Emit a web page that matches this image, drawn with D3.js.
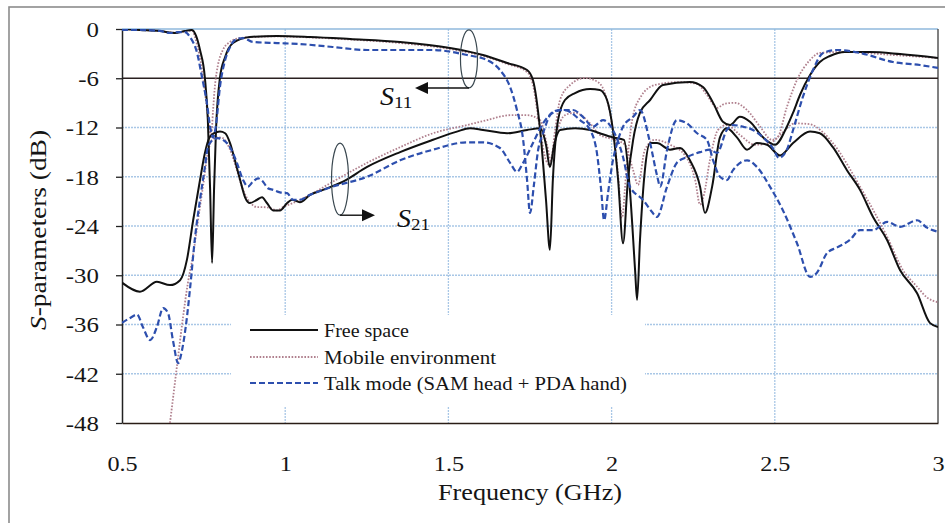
<!DOCTYPE html>
<html><head><meta charset="utf-8">
<script src="https://cdn.jsdelivr.net/npm/d3@7"></script>
<style>
body{margin:0;background:#fff}
svg text{font-family:"Liberation Serif","Times New Roman",serif;}
</style>
</head><body>
<svg id="chart" width="945" height="523"></svg>
<script>
// ---------- data ----------
const xTicks = [0.5, 1, 1.5, 2, 2.5, 3];
const xTickLabels = ["0.5", "1", "1.5", "2", "2.5", "3"];
const yTicks = [0, -6, -12, -18, -24, -30, -36, -42, -48];
const yTickLabels = ["0", "-6", "-12", "-18", "-24", "-30", "-36", "-42", "-48"];
const xGrid = [1, 1.5, 2, 2.5];
const yGrid = [-12, -18, -24, -30, -36, -42];
const refLevel = -6;
const seriesNames = ["Free space", "Mobile environment", "Talk mode (SAM head + PDA hand)"];

// [frequency GHz, dB]
const freeS11 = [[0.5,0],[0.555,-0.12],[0.616,-0.24],[0.662,-0.49],[0.693,-0.24],[0.714,-0.12],[0.727,-0.85],[0.739,-2.56],[0.754,-5.97],[0.763,-11.1],[0.770,-19.6],[0.776,-28.5],[0.782,-19.6],[0.788,-12.3],[0.800,-5.97],[0.816,-3.41],[0.840,-1.71],[0.892,-0.97],[0.975,-0.85],[1.076,-0.97],[1.199,-1.22],[1.352,-1.58],[1.505,-2.31],[1.606,-3.17],[1.680,-4.14],[1.741,-5.0],[1.759,-6.21],[1.781,-12.3],[1.799,-20.8],[1.811,-26.9],[1.820,-18.4],[1.836,-11.1],[1.857,-8.65],[1.888,-7.8],[1.934,-7.31],[1.964,-7.43],[1.986,-8.65],[2.004,-12.3],[2.020,-18.4],[2.035,-26.1],[2.050,-18.4],[2.066,-13.5],[2.087,-10.2],[2.118,-8.65],[2.157,-6.82],[2.240,-6.46],[2.280,-7.07],[2.311,-9.0],[2.341,-11.3],[2.363,-11.7],[2.393,-10.7],[2.424,-11.3],[2.464,-13.2],[2.501,-14.1],[2.537,-11.9],[2.556,-10.2],[2.577,-8.04],[2.608,-5.6],[2.638,-4.02],[2.669,-3.29],[2.715,-2.8],[2.792,-2.8],[2.884,-3.05],[3.0,-3.53]];
const freeS21 = [[0.5,-30.9],[0.555,-32.0],[0.607,-30.8],[0.647,-31.2],[0.678,-30.6],[0.699,-28.1],[0.718,-23.3],[0.739,-18.4],[0.754,-15.1],[0.767,-13.3],[0.782,-12.7],[0.800,-12.5],[0.816,-12.7],[0.831,-13.9],[0.846,-16.0],[0.862,-18.4],[0.877,-20.5],[0.892,-21.2],[0.914,-20.8],[0.929,-20.5],[0.944,-21.2],[0.963,-22.1],[0.984,-22.1],[1.006,-21.2],[1.021,-20.8],[1.045,-21.1],[1.076,-20.2],[1.116,-19.6],[1.177,-18.6],[1.251,-16.8],[1.352,-15.0],[1.453,-13.5],[1.526,-12.5],[1.566,-12.1],[1.606,-12.3],[1.680,-12.7],[1.741,-12.3],[1.781,-12.1],[1.799,-14.1],[1.811,-16.8],[1.824,-14.1],[1.842,-12.3],[1.888,-12.1],[1.934,-12.3],[1.964,-12.7],[2.004,-13.2],[2.038,-13.5],[2.056,-19.6],[2.072,-29.4],[2.078,-33.0],[2.087,-25.7],[2.102,-17.2],[2.118,-13.9],[2.139,-13.9],[2.179,-14.7],[2.210,-14.5],[2.240,-16.0],[2.271,-19.2],[2.286,-22.4],[2.308,-19.2],[2.332,-13.2],[2.353,-12.1],[2.384,-13.2],[2.415,-14.7],[2.445,-13.9],[2.476,-14.1],[2.516,-15.4],[2.556,-13.9],[2.608,-12.5],[2.638,-12.7],[2.678,-14.4],[2.721,-17.2],[2.761,-19.6],[2.801,-22.9],[2.844,-25.7],[2.884,-29.4],[2.936,-32.2],[2.975,-35.8],[3.0,-36.3]];
const mobileS11 = [[0.5,0],[0.555,-0.12],[0.616,-0.24],[0.662,-0.45],[0.693,-0.3],[0.714,-0.2],[0.730,-1.95],[0.745,-5.0],[0.757,-8.65],[0.767,-11.7],[0.773,-13.2],[0.779,-9.87],[0.785,-6.82],[0.794,-4.39],[0.809,-2.56],[0.831,-1.58],[0.862,-1.1],[0.975,-0.9],[1.076,-1.03],[1.199,-1.28],[1.352,-1.71],[1.505,-2.44],[1.606,-3.29],[1.680,-4.26],[1.741,-5.24],[1.759,-6.8],[1.781,-12.3],[1.799,-16.0],[1.811,-16.6],[1.827,-12.3],[1.842,-8.65],[1.873,-6.82],[1.918,-5.97],[1.958,-6.46],[1.986,-8.65],[2.004,-12.3],[2.020,-17.8],[2.032,-23.0],[2.044,-17.8],[2.063,-11.1],[2.087,-8.4],[2.133,-6.82],[2.210,-6.46],[2.262,-6.7],[2.292,-8.04],[2.323,-9.6],[2.347,-9.1],[2.378,-9.0],[2.415,-9.87],[2.455,-11.9],[2.491,-13.5],[2.507,-13.3],[2.537,-9.5],[2.568,-6.2],[2.608,-3.78],[2.638,-2.92],[2.709,-2.8],[2.862,-3.17],[3.0,-3.53]];
const mobileS21 = [[0.647,-48.0],[0.668,-41.2],[0.687,-35.1],[0.702,-30.9],[0.718,-27.5],[0.733,-23.3],[0.748,-19.2],[0.763,-15.1],[0.776,-13.5],[0.791,-13.2],[0.809,-13.3],[0.831,-14.7],[0.852,-17.2],[0.871,-19.6],[0.892,-21.1],[0.914,-21.7],[0.932,-21.7],[0.953,-21.8],[0.975,-22.1],[0.993,-21.7],[1.024,-21.2],[1.076,-20.2],[1.146,-18.6],[1.251,-16.3],[1.352,-14.4],[1.453,-12.7],[1.557,-11.7],[1.618,-11.1],[1.689,-10.5],[1.741,-10.5],[1.781,-11.1],[1.802,-14.1],[1.814,-16.0],[1.830,-12.9],[1.857,-10.5],[1.888,-10.2],[1.934,-11.5],[1.964,-12.9],[2.010,-13.5],[2.041,-14.1],[2.066,-17.2],[2.081,-19.0],[2.102,-14.7],[2.133,-13.5],[2.179,-14.1],[2.225,-15.4],[2.256,-18.4],[2.271,-21.4],[2.283,-20.2],[2.301,-16.0],[2.326,-12.3],[2.353,-11.7],[2.393,-12.9],[2.439,-14.1],[2.485,-13.9],[2.516,-12.9],[2.562,-11.5],[2.608,-11.6],[2.645,-12.5],[2.678,-13.9],[2.761,-19.2],[2.844,-25.3],[2.893,-29.4],[2.936,-31.4],[2.966,-32.7],[3.0,-33.3]];
const talkS11 = [[0.5,-0.12],[0.555,-0.12],[0.616,-0.24],[0.647,-0.49],[0.672,-0.37],[0.693,-0.37],[0.708,-0.97],[0.730,-2.92],[0.745,-5.85],[0.760,-9.0],[0.770,-11.9],[0.779,-13.2],[0.788,-11.7],[0.800,-7.07],[0.816,-3.78],[0.831,-2.19],[0.846,-1.34],[0.871,-1.1],[0.901,-1.58],[0.975,-1.71],[1.045,-1.83],[1.146,-2.19],[1.251,-2.56],[1.453,-2.56],[1.557,-3.17],[1.618,-3.78],[1.658,-5.0],[1.689,-7.07],[1.710,-9.87],[1.729,-13.5],[1.741,-18.4],[1.750,-22.4],[1.762,-19.0],[1.775,-14.7],[1.790,-12.7],[1.817,-10.2],[1.842,-9.87],[1.882,-9.87],[1.912,-10.7],[1.943,-11.9],[1.974,-11.1],[2.004,-12.3],[2.035,-15.6],[2.056,-19.2],[2.096,-20.8],[2.124,-22.3],[2.139,-22.9],[2.170,-19.2],[2.200,-16.3],[2.231,-15.6],[2.271,-15.0],[2.301,-14.7],[2.323,-15.1],[2.353,-12.3],[2.372,-11.7],[2.402,-11.9],[2.433,-12.3],[2.464,-13.2],[2.494,-14.5],[2.513,-15.7],[2.537,-14.7],[2.556,-12.3],[2.586,-8.28],[2.617,-5.0],[2.648,-2.92],[2.691,-2.56],[2.761,-2.92],[2.862,-4.02],[2.945,-4.39],[3.0,-4.75]];
const talkS21 = [[0.5,-35.8],[0.525,-35.2],[0.546,-34.8],[0.564,-36.3],[0.586,-37.9],[0.607,-36.3],[0.626,-34.0],[0.641,-34.6],[0.656,-37.9],[0.672,-40.7],[0.684,-39.1],[0.699,-35.1],[0.708,-31.8],[0.724,-25.3],[0.739,-20.8],[0.754,-16.8],[0.763,-14.4],[0.779,-13.5],[0.794,-13.3],[0.809,-13.5],[0.831,-14.4],[0.852,-16.3],[0.871,-18.4],[0.886,-19.2],[0.901,-18.6],[0.917,-18.2],[0.932,-18.6],[0.947,-19.4],[0.963,-19.6],[0.984,-19.9],[1.006,-20.0],[1.024,-20.8],[1.045,-20.8],[1.076,-20.2],[1.116,-19.6],[1.146,-19.2],[1.251,-18.0],[1.352,-16.0],[1.453,-14.7],[1.557,-13.8],[1.606,-13.8],[1.658,-14.5],[1.689,-16.3],[1.710,-17.4],[1.729,-16.3],[1.759,-13.9],[1.790,-11.5],[1.820,-10.2],[1.851,-9.87],[1.873,-10.1],[1.903,-11.1],[1.934,-12.3],[1.955,-15.1],[1.968,-19.6],[1.977,-23.3],[1.989,-20.0],[2.004,-16.0],[2.017,-13.9],[2.035,-11.9],[2.066,-10.7],[2.087,-9.87],[2.118,-13.9],[2.139,-17.8],[2.149,-19.2],[2.170,-14.7],[2.200,-11.1],[2.231,-11.5],[2.262,-12.7],[2.292,-13.5],[2.311,-16.0],[2.332,-18.0],[2.353,-18.4],[2.372,-17.2],[2.415,-16.0],[2.445,-16.8],[2.485,-19.2],[2.525,-22.1],[2.568,-26.1],[2.608,-30.2],[2.629,-29.7],[2.660,-27.3],[2.691,-26.6],[2.730,-25.7],[2.761,-24.5],[2.801,-24.5],[2.844,-23.5],[2.884,-24.1],[2.936,-23.3],[2.966,-24.2],[3.0,-24.7]];

// annotation anchors (GHz, dB)
const s11Anchor = [1.563, -3.65];
const s21Anchor = [1.168, -18.3];

// ---------- drawing ----------
const svg = d3.select("#chart");
const W = 945, H = 523;
const m = {left: 122, right: 7, top: 29, bottom: 100};
const x = d3.scaleLinear().domain([0.5, 3]).range([m.left, W - m.right]);
const y = d3.scaleLinear().domain([0, -48]).range([m.top, H - m.bottom]);
const serif = '"Liberation Serif","Times New Roman",serif';

svg.append("rect").attr("width", W).attr("height", H).attr("fill", "#fff");
svg.append("rect").attr("x", 9).attr("y", 7).attr("width", 960).attr("height", 540)
  .attr("fill", "none").attr("stroke", "#8c8c8c").attr("stroke-width", 1.6);

// grid
const gridColor = "#a9c7e6";
svg.append("g").selectAll("line").data(yGrid).join("line")
  .attr("x1", x(0.5)).attr("x2", x(3)).attr("y1", d => y(d)).attr("y2", d => y(d))
  .attr("stroke", gridColor).attr("stroke-width", 1.3).attr("stroke-dasharray", "2,1");
svg.append("g").selectAll("line").data(xGrid).join("line")
  .attr("x1", d => x(d)).attr("x2", d => x(d)).attr("y1", y(0)).attr("y2", y(-48))
  .attr("stroke", gridColor).attr("stroke-width", 1.3).attr("stroke-dasharray", "2,1");
svg.append("line").attr("x1", x(0.5)).attr("x2", x(3)).attr("y1", y(0)).attr("y2", y(0))
  .attr("stroke", "#8fb8dc").attr("stroke-width", 1.3);
svg.append("line").attr("x1", x(3)).attr("x2", x(3)).attr("y1", y(0)).attr("y2", y(-48))
  .attr("stroke", "#4a4a4a").attr("stroke-width", 1.4);
svg.append("line").attr("x1", x(0.5)).attr("x2", x(3)).attr("y1", y(refLevel)).attr("y2", y(refLevel))
  .attr("stroke", "#2a2020").attr("stroke-width", 1.4);

// legend background box (hides grid)
svg.append("rect").attr("x", 231).attr("y", 315).attr("width", 414).attr("height", 91).attr("fill", "#fff");

// axes
const yAxis = d3.axisLeft(y).tickValues(yTicks).tickSize(6).tickSizeOuter(0)
  .tickFormat((d, i) => yTickLabels[i]);
const gy = svg.append("g").attr("transform", `translate(${x(0.5)},0)`).call(yAxis);
gy.attr("font-family", null);
gy.select(".domain").attr("stroke", "#222").attr("stroke-width", 1.5);
gy.selectAll(".tick line").attr("stroke", "#222").attr("stroke-width", 1.3);
gy.selectAll(".tick text").style("font-family", serif).attr("font-size", 22).attr("fill", "#151515")
  .attr("x", -20.5).attr("dy", "0.33em").attr("transform", "scale(1.13,1)");

const xAxis = d3.axisBottom(x).tickValues(xTicks).tickSize(0).tickSizeOuter(0)
  .tickFormat((d, i) => xTickLabels[i]);
const gx = svg.append("g").attr("transform", `translate(0,${y(-48)})`).call(xAxis);
gx.attr("font-family", null);
gx.select(".domain").attr("stroke", "#2a1d16").attr("stroke-width", 1.6);
gx.selectAll(".tick text").style("font-family", serif).attr("font-size", 22).attr("fill", "#151515")
  .attr("y", 48).attr("dy", 0).attr("transform", "scale(1.1,1)");

// axis titles
svg.append("text").attr("x", 530).attr("y", 500).attr("text-anchor", "middle")
  .style("font-family", serif).attr("font-size", 22.5).attr("fill", "#151515")
  .attr("textLength", 184).attr("lengthAdjust", "spacingAndGlyphs").text("Frequency (GHz)");
const yt = svg.append("text").attr("transform", "translate(46,230) rotate(-90)")
  .attr("text-anchor", "middle").style("font-family", serif).attr("font-size", 22.5).attr("fill", "#151515")
  .attr("textLength", 200).attr("lengthAdjust", "spacingAndGlyphs");
yt.append("tspan").attr("font-style", "italic").text("S");
yt.append("tspan").text("-parameters  (dB)");

// curves
svg.append("clipPath").attr("id", "plotclip").append("rect")
  .attr("x", x(0.5)).attr("y", y(0)).attr("width", x(3) - x(0.5)).attr("height", y(-48) - y(0));
const line = d3.line().x(d => x(d[0])).y(d => y(d[1])).curve(d3.curveMonotoneX);
const styles = {
  free:   {stroke: "#111111", width: 2.0, dash: null},
  mobile: {stroke: "#b0808e", width: 1.8, dash: "1.6,1.6"},
  talk:   {stroke: "#2d4fae", width: 2.2, dash: "6,3"}
};
const curves = [
  [mobileS11, "mobile"], [mobileS21, "mobile"],
  [freeS11, "free"], [freeS21, "free"],
  [talkS11, "talk"], [talkS21, "talk"]
];
const gc = svg.append("g").attr("clip-path", "url(#plotclip)");
curves.forEach(([data, key]) => {
  const s = styles[key];
  gc.append("path").datum(data).attr("d", line).attr("fill", "none")
    .attr("stroke", s.stroke).attr("stroke-width", s.width)
    .attr("stroke-dasharray", s.dash).attr("stroke-linejoin", "round");
});

// legend
const legendKeys = ["free", "mobile", "talk"];
const legendY = [330, 357, 383];
const legendLen = [85, 172, 303];
seriesNames.forEach((name, i) => {
  const s = styles[legendKeys[i]];
  svg.append("line").attr("x1", 250).attr("x2", 318).attr("y1", legendY[i]).attr("y2", legendY[i])
    .attr("stroke", s.stroke).attr("stroke-width", s.width).attr("stroke-dasharray", s.dash);
  svg.append("text").attr("x", 324).attr("y", legendY[i] + 7).style("font-family", serif)
    .attr("font-size", 18.5).attr("fill", "#151515")
    .attr("textLength", legendLen[i]).attr("lengthAdjust", "spacingAndGlyphs").text(name);
});

// annotations
const annStroke = "#3a4850";
function annotate(anchor, ry, dir, tipX, labelX, labelY, sub) {
  const cx = x(anchor[0]), cy = y(anchor[1]);
  svg.append("ellipse").attr("cx", cx).attr("cy", cy).attr("rx", 8.5).attr("ry", ry)
    .attr("fill", "none").attr("stroke", annStroke).attr("stroke-width", 1.2);
  const by = cy + ry;
  const base = tipX - dir * 13;
  svg.append("line").attr("x1", cx).attr("x2", base).attr("y1", by).attr("y2", by)
    .attr("stroke", "#111").attr("stroke-width", 1.4);
  svg.append("path").attr("d", `M${tipX},${by} L${base},${by - 6} L${base},${by + 6} Z`).attr("fill", "#111");
  const t = svg.append("text").attr("transform", `translate(${labelX},${labelY}) scale(1.12,1)`)
    .style("font-family", serif).attr("fill", "#111");
  t.append("tspan").attr("font-style", "italic").attr("font-size", 25).text("S");
  t.append("tspan").attr("font-size", 17).attr("dy", 3).text(sub);
}
annotate(s11Anchor, 29, -1, 415, 380, 105, "11");
annotate(s21Anchor, 36, 1, 375, 397, 227, "21");
</script>
</body></html>
